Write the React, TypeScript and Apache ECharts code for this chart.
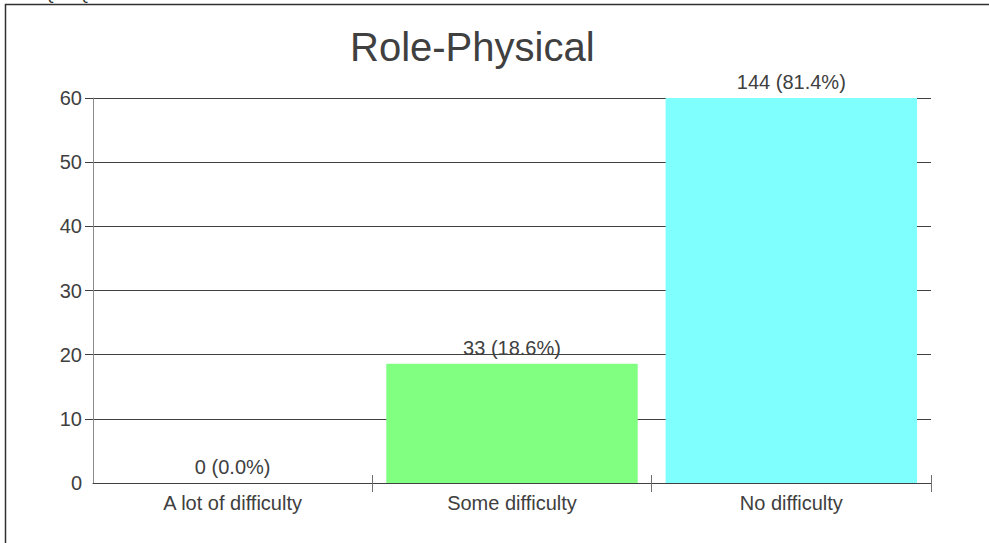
import React, { useEffect, useRef } from "react";
import * as echarts from "echarts";

const categories = ["A lot of difficulty", "Some difficulty", "No difficulty"];
const counts = [0, 33, 144];
const percents = [0.0, 18.6, 81.4];
const barColors = ["#FF8080", "#80FF80", "#80FFFF"];
const yTicks = [10, 20, 30, 40, 50, 60];
const xTickPositions = [1, 2, 3];
const titleText = "Role-Physical";
const topText = "HRQoL Questionnaire Results";

const FONT = "'Liberation Sans', Arial, sans-serif";
const TEXT = "#404040";

export default function App() {
  const ref = useRef<HTMLDivElement>(null);
  useEffect(() => {
    if (!ref.current) return;
    const chart = echarts.init(ref.current, null, { renderer: "svg" });
    chart.setOption({
      animation: false,
      backgroundColor: "#ffffff",
      textStyle: { fontFamily: FONT },
      title: {
        text: titleText,
        left: 345,
        top: 22,
        textStyle: { fontSize: 40, fontWeight: "normal", color: TEXT, fontFamily: FONT },
      },
      graphic: [
        {
          type: "rect",
          silent: true,
          shape: { x: 5.5, y: 4.5, width: 1100, height: 700 },
          style: { fill: "none", stroke: "#303030", lineWidth: 1.5 },
        },
        {
          type: "text",
          x: 20,
          y: -14,
          style: { text: topText, fontSize: 16, fill: "#303030", fontFamily: FONT },
        },
      ],
      grid: { left: 93, right: 58, top: 98, bottom: 60, containLabel: false },
      xAxis: [
        {
          type: "category",
          data: categories,
          boundaryGap: true,
          axisLine: { show: true, lineStyle: { color: "#404040", width: 1 } },
          axisTick: { show: false },
          axisLabel: { fontSize: 20, color: TEXT, margin: 10, fontFamily: FONT },
          splitLine: { show: false },
        },
        {
          type: "value",
          min: 0,
          max: 3,
          interval: 1,
          position: "bottom",
          axisLine: { show: false },
          axisLabel: { show: false },
          splitLine: { show: false },
          axisTick: {
            show: true,
            inside: true,
            length: 8,
            customValues: xTickPositions,
            lineStyle: { color: "#707070", width: 1 },
          },
        },
        {
          type: "value",
          min: 0,
          max: 3,
          interval: 1,
          position: "bottom",
          axisLine: { show: false },
          axisLabel: { show: false },
          splitLine: { show: false },
          axisTick: {
            show: true,
            inside: false,
            length: 9,
            customValues: xTickPositions,
            lineStyle: { color: "#707070", width: 1 },
          },
        },
      ],
      yAxis: {
        type: "value",
        min: 0,
        max: 60,
        interval: 10,
        axisLine: { show: true, lineStyle: { color: "#8a8a8a", width: 1 } },
        axisTick: {
          show: true,
          length: 8,
          customValues: yTicks,
          lineStyle: { color: "#404040", width: 1 },
        },
        axisLabel: { fontSize: 20, color: TEXT, margin: 11, fontFamily: FONT },
        splitLine: { show: true, lineStyle: { color: "#404040", width: 1 } },
      },
      series: [
        {
          type: "bar",
          xAxisIndex: 0,
          barWidth: "90%",
          clip: true,
          data: percents.map((p, i) => ({ value: p, itemStyle: { color: barColors[i] } })),
          label: {
            show: true,
            position: "top",
            distance: 6,
            fontSize: 20,
            color: TEXT,
            fontFamily: FONT,
            formatter: (params: any) =>
              `${counts[params.dataIndex]} (${percents[params.dataIndex].toFixed(1)}%)`,
          },
        },
      ],
    });
    return () => chart.dispose();
  }, []);
  return (
    <div
      ref={ref}
      style={{ position: "fixed", left: 0, top: 0, width: 989, height: 543 }}
    />
  );
}
